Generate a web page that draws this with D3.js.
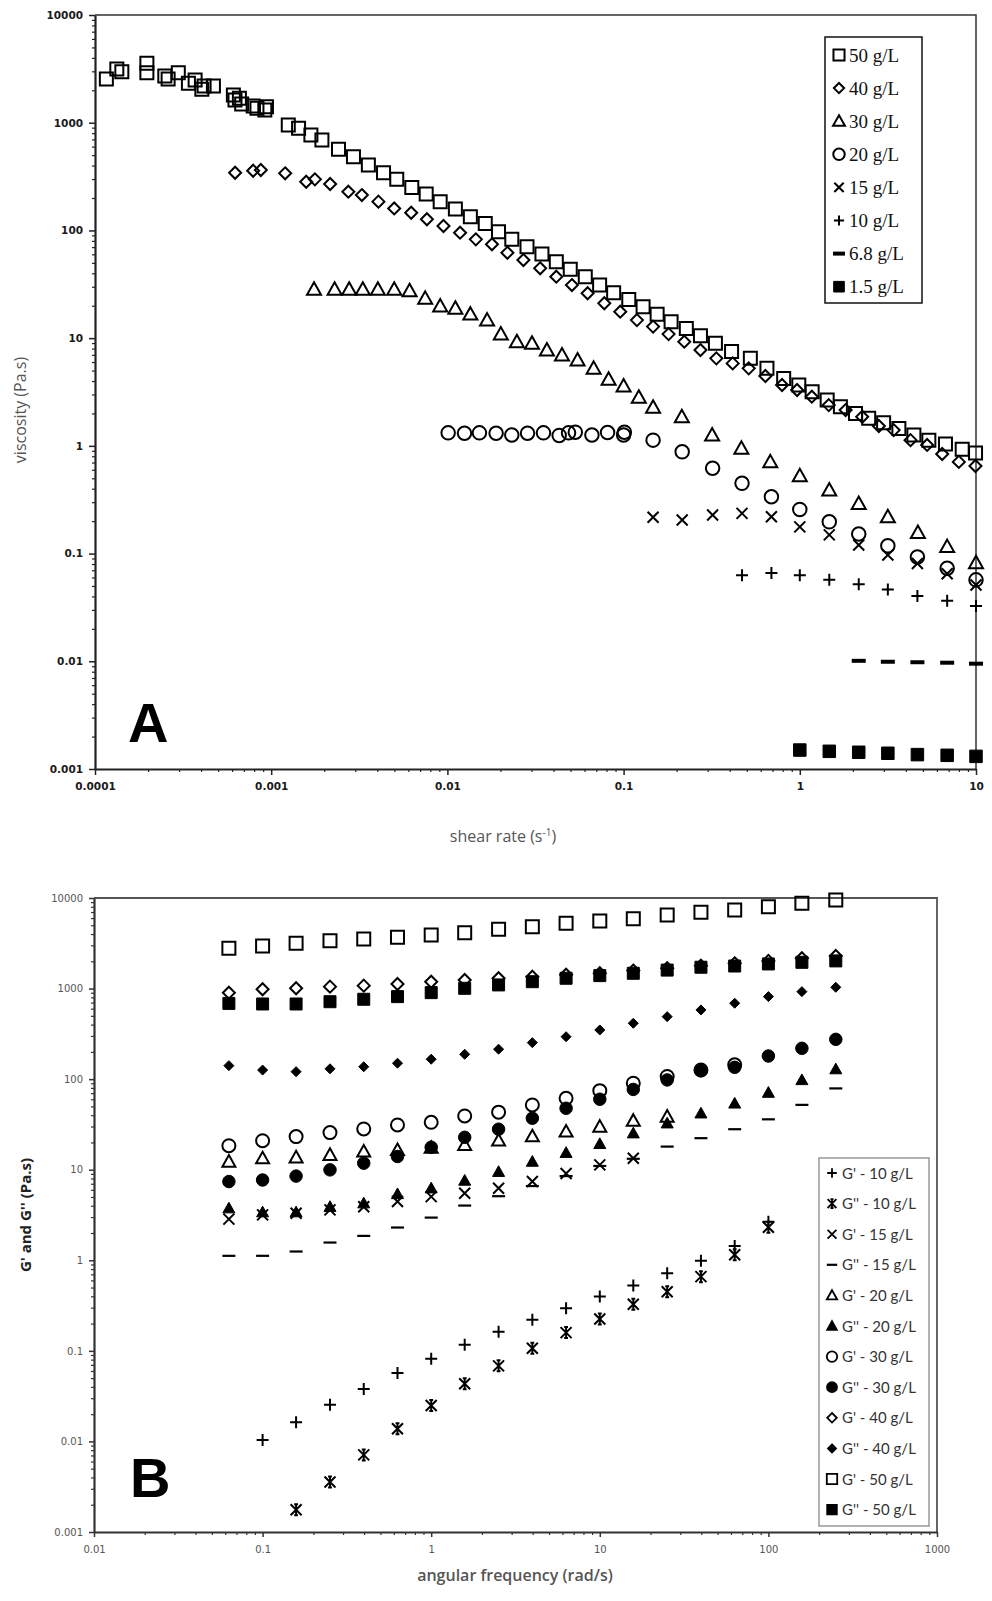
<!DOCTYPE html>
<html>
<head>
<meta charset="utf-8">
<script src="https://cdn.jsdelivr.net/npm/d3@7"></script>
<style>body{margin:0;background:#fff}</style>
</head>
<body>
<div id="chart"></div>
<script>
// ---------- PANEL A: viscosity vs shear rate, [shear rate, viscosity] ----------
const a50 = [[1.16e-4,2550],[1.33e-4,3150],[1.42e-4,2980],[1.97e-4,3560],[1.97e-4,2910],[2.49e-4,2715],
  [2.6e-4,2550],[2.97e-4,2910],[3.39e-4,2320],[3.7e-4,2490],[4.04e-4,2040],[4.16e-4,2190],[4.7e-4,2190],
  [6.1e-4,1810],[6.23e-4,1625],[6.6e-4,1690],[6.8e-4,1495],[7.9e-4,1430],[8.3e-4,1360],[9.2e-4,1313],
  [9.4e-4,1410],[1.25e-3,953],[1.43e-3,887],[1.68e-3,769],[1.94e-3,691],[2.41e-3,566],[2.93e-3,483],
  [3.56e-3,405],[4.34e-3,343],[5.16e-3,298],[6.28e-3,251],[7.58e-3,218],[9.1e-3,185],[0.0111,158],
  [0.0135,134],[0.0164,116],[0.0195,97.3],[0.0232,82.6],[0.0283,70.6],[0.0344,60.4],[0.0415,51.2],
  [0.0498,43.5],[0.0606,37.2],[0.0731,31.1],[0.0878,26.4],[0.107,22.9],[0.129,19.6],[0.155,16.7],
  [0.186,14.2],[0.227,12.3],[0.273,10.5],[0.332,8.95],[0.41,7.5],[0.524,6.5],[0.651,5.24],[0.81,4.23],
  [0.987,3.67],[1.175,3.18],[1.43,2.66],[1.70,2.31],[2.07,2.0],[2.46,1.80],[2.99,1.64],[3.65,1.45],
  [4.44,1.26],[5.40,1.13],[6.71,1.04],[8.35,0.93],[9.94,0.86]];
const a40 = [[6.24e-4,343],[7.9e-4,358],[8.73e-4,364],[1.2e-3,339],[1.58e-3,283],[1.77e-3,298],[2.16e-3,270],
  [2.74e-3,229],[3.27e-3,213],[4.06e-3,185],[4.99e-3,160],[6.23e-3,146],[7.65e-3,127],[9.5e-3,110],
  [0.0118,95.3],[0.0145,82.6],[0.0179,74.3],[0.0219,62],[0.027,53.1],[0.0336,44.5],[0.0415,37.2],
  [0.0509,31.1],[0.0625,26.1],[0.0777,21.1],[0.0957,17.6],[0.119,14.7],[0.147,12.8],[0.18,10.9],
  [0.221,9.27],[0.273,7.75],[0.336,6.49],[0.416,5.83],[0.513,5.24],[0.638,4.45],[0.793,3.67],[0.965,3.30],
  [1.17,2.86],[1.46,2.39],[1.82,2.15],[2.26,1.86],[2.81,1.53],[3.41,1.40],[4.25,1.13],[5.28,1.02],
  [6.43,0.84],[7.99,0.71],[9.93,0.65]];
const a30 = [[1.75e-3,28.4],[2.29e-3,28.4],[2.77e-3,28.4],[3.31e-3,28.4],[4.03e-3,28.4],[4.99e-3,28.4],
  [6.1e-3,27.5],[7.48e-3,23.4],[9.1e-3,19.9],[0.0111,18.9],[0.0135,16.7],[0.0168,14.7],[0.0201,10.9],
  [0.0248,9.27],[0.0302,8.95],[0.0367,7.75],[0.0447,6.96],[0.0548,6.26],[0.0676,5.24],[0.0822,4.15],
  [0.1,3.59],[0.122,2.82],[0.147,2.28],[0.214,1.86],[0.318,1.26],[0.466,0.95],[0.68,0.71],[1.0,0.527],
  [1.47,0.389],[2.16,0.292],[3.16,0.22],[4.68,0.157],[6.86,0.116],[10,0.082]];
const a20 = [[0.0101,1.32],[0.0125,1.31],[0.0152,1.32],[0.0189,1.31],[0.0232,1.26],[0.0285,1.31],[0.0351,1.32],
  [0.0431,1.25],[0.0487,1.32],[0.0532,1.34],[0.0661,1.26],[0.0811,1.33],[0.101,1.34],[0.1,1.26],
  [0.147,1.13],[0.215,0.88],[0.32,0.62],[0.47,0.449],[0.69,0.337],[1.0,0.257],[1.47,0.197],[2.16,0.152],
  [3.16,0.118],[4.65,0.093],[6.86,0.073],[10,0.057]];
const a15 = [[0.147,0.217],[0.215,0.205],[0.32,0.228],[0.47,0.236],[0.69,0.22],[1.0,0.177],[1.47,0.149],
  [2.16,0.12],[3.16,0.097],[4.65,0.081],[6.86,0.065],[10,0.051]];
const a10 = [[0.47,0.063],[0.69,0.066],[1.0,0.063],[1.47,0.057],[2.16,0.052],[3.16,0.0465],[4.65,0.0403],
  [6.86,0.0365],[10,0.0326]];
const a6_8 = [[2.16,0.0101],[3.16,0.0099],[4.65,0.0098],[6.86,0.0097],[10,0.0095]];
const a1_5 = [[1.0,0.0015],[1.47,0.00146],[2.16,0.00143],[3.16,0.0014],[4.65,0.00136],[6.86,0.00134],[10,0.00131]];

const seriesA = ["50 g/L","40 g/L","30 g/L","20 g/L","15 g/L","10 g/L","6.8 g/L","1.5 g/L"];

// ---------- PANEL B: G' and G'' vs angular frequency ----------
const freq = [0.0631,0.1,0.158,0.251,0.398,0.631,1,1.58,2.51,3.98,6.31,10,15.8,25.1,39.8,63.1,100,158,251];
const gp10  = [null,0.0104,0.0163,0.0254,0.038,0.0568,0.0817,0.1165,0.163,0.22,0.296,0.398,0.526,0.72,0.99,1.44,2.67,null,null];
const gpp10 = [null,null,0.00176,0.00356,0.0071,0.0138,0.0249,0.0433,0.0683,0.107,0.159,0.225,0.327,0.45,0.66,1.15,2.32,null,null];
const gp15  = [2.85,3.17,3.3,3.6,3.9,4.45,5.05,5.5,6.25,7.4,9.1,11.3,13.4,null,null,null,null,null,null];
const gpp15 = [1.12,1.12,1.25,1.57,1.86,2.3,2.96,4.02,5.1,6.6,8.5,11,13.2,18,22.3,28,36,52,79];
const gp20  = [12.3,13.4,13.7,14.6,15.9,16.5,17.5,18.8,21,23.4,26.4,29.9,34.8,38.6,null,null,null,null,null];
const gpp20 = [3.76,3.4,3.4,3.9,4.27,5.4,6.25,7.6,9.5,12.3,15.4,19.3,25.3,32.6,42,54,71,98,129];
const gp30  = [18.4,20.9,23.2,25.7,28.2,31.2,33.4,39.2,43.2,51.9,61.5,74.6,90.2,107,126,144,null,null,null];
const gpp30 = [7.4,7.7,8.5,9.96,11.8,14.0,17.7,22.8,28,37,47.7,60,77,98,124,135,180,219,275];
const gp40  = [901,982,1008,1050,1077,1124,1190,1245,1300,1353,1420,1475,1580,1675,1790,1900,2020,2160,2290];
const gpp40 = [141,126,121,130,137,150,166,188,214,253,294,349,414,490,581,689,815,925,1033];
const gp50  = [2790,2950,3160,3380,3530,3680,3910,4140,4510,4820,5250,5570,5910,6500,6950,7380,8020,8740,9500];
const gpp50 = [686,676,676,716,762,815,902,1007,1097,1191,1300,1390,1475,1600,1720,1775,1870,1950,2020];

const seriesB = ["G' - 10 g/L","G'' - 10 g/L","G' - 15 g/L","G'' - 15 g/L","G' - 20 g/L","G'' - 20 g/L",
  "G' - 30 g/L","G'' - 30 g/L","G' - 40 g/L","G'' - 40 g/L","G' - 50 g/L","G'' - 50 g/L"];

// tick labels
const yTicks = [1e-3,1e-2,0.1,1,10,100,1000,1e4];
const yTickLabels = ["0.001","0.01","0.1","1","10","100","1000","10000"];
const xTicksA = [1e-4,1e-3,1e-2,0.1,1,10];
const xTickLabelsA = ["0.0001","0.001","0.01","0.1","1","10"];
const xTicksB = [0.01,0.1,1,10,100,1000];
const xTickLabelsB = ["0.01","0.1","1","10","100","1000"];

// ---------- SETUP ----------
const svg = d3.select("#chart").append("svg")
  .attr("width", 992).attr("height", 1601)
  .style("background", "#fff");

const xA = d3.scaleLog().domain([1e-4, 10]).range([95, 976]);
const yA = d3.scaleLog().domain([1e-3, 1e4]).range([769, 15]);
const xB = d3.scaleLog().domain([0.01, 1000]).range([94, 937]);
const yB = d3.scaleLog().domain([1e-3, 1e4]).range([1532, 898]);

// marker shapes centred on 0,0
function shape(type, s, t) {
  const h = s / 2;
  switch (type) {
    case "square": return `M${-h},${-h}H${h}V${h}H${-h}Z`;
    case "diamond": return `M0,${-h}L${h},0L0,${h}L${-h},0Z`;
    case "triangle": return `M0,${-h}L${h},${h * 0.78}L${-h},${h * 0.78}Z`;
    case "circle": return `M${-h},0A${h},${h} 0 1,0 ${h},0A${h},${h} 0 1,0 ${-h},0Z`;
    case "x": return `M${-h},${-h}L${h},${h}M${h},${-h}L${-h},${h}`;
    case "plus": return `M${-h},0H${h}M0,${-h}V${h}`;
    case "star": return `M${-h},${-h}L${h},${h}M${h},${-h}L${-h},${h}M0,${-h}V${h}M${-h*0.35},${-h}H${h*0.35}M${-h*0.35},${h}H${h*0.35}`;
    case "dash": return `M${-h},${-t / 2}H${h}V${t / 2}H${-h}Z`;
  }
}

function drawPoints(g, pts, st) {
  g.append("g").selectAll("path")
    .data(pts)
    .enter().append("path")
    .attr("transform", d => `translate(${d[0]},${d[1]})`)
    .attr("d", shape(st.shape, st.size, st.t))
    .attr("fill", st.fill ? "#000" : "none")
    .attr("stroke", "#000")
    .attr("stroke-width", st.sw != null ? st.sw : 2);
}

function logAxis(g, scale, orient, pos, majors, labels, o) {
  const axisFn = orient === "left" ? d3.axisLeft : d3.axisBottom;
  const [lo, hi] = scale.domain();
  const minors = [];
  for (let e = Math.round(Math.log10(lo)); e < Math.round(Math.log10(hi)); e++)
    for (let k = 2; k < 10; k++) minors.push(k * Math.pow(10, e));
  const tr = orient === "left" ? `translate(${pos},0)` : `translate(0,${pos})`;

  const gm = g.append("g").attr("transform", tr)
    .call(axisFn(scale).tickValues(minors).tickSize(o.minor).tickSizeOuter(0).tickFormat(""));
  gm.select(".domain").remove();
  gm.selectAll("line").attr("stroke", o.color).attr("stroke-width", 1.2);

  const gM = g.append("g").attr("transform", tr)
    .call(axisFn(scale).tickValues(majors).tickSize(o.major).tickSizeOuter(0)
      .tickPadding(o.pad).tickFormat((d, i) => labels[i]));
  gM.select(".domain").attr("stroke", o.color).attr("stroke-width", o.lw);
  gM.selectAll("line").attr("stroke", o.color).attr("stroke-width", 1.5);
  gM.selectAll("text")
    .style("font-family", "DejaVu Sans, sans-serif")
    .style("font-size", o.fs + "px")
    .style("font-weight", o.fw)
    .attr("fill", o.tc);
}

// ---------- PANEL A ----------
const gA = svg.append("g");

// plot frame (top and right)
gA.append("path")
  .attr("d", `M${xA(1e-4)},${yA(1e4)}H${xA(10)}V${yA(1e-3)}`)
  .attr("fill", "none").attr("stroke", "#333").attr("stroke-width", 1.5);

const axA = { minor: 3, major: 6, pad: 6, color: "#222", lw: 2.2, fs: 10.5, fw: "bold", tc: "#1a1a1a" };
logAxis(gA, yA, "left", xA(1e-4), yTicks, yTickLabels, axA);
logAxis(gA, xA, "bottom", yA(1e-3), xTicksA, xTickLabelsA, Object.assign({}, axA, { pad: 8 }));

const stylesA = [
  { shape: "square", size: 13, fill: false },
  { shape: "diamond", size: 12, fill: false },
  { shape: "triangle", size: 14, fill: false },
  { shape: "circle", size: 13.5, fill: false },
  { shape: "x", size: 11, fill: false },
  { shape: "plus", size: 12, fill: false },
  { shape: "dash", size: 14, t: 4, fill: true, sw: 0 },
  { shape: "square", size: 12.5, fill: true, sw: 1 }
];
[a50, a40, a30, a20, a15, a10, a6_8, a1_5].forEach((s, i) => {
  drawPoints(gA, s.map(d => [xA(d[0]), yA(d[1])]), stylesA[i]);
});

// legend A
const legA = gA.append("g");
legA.append("rect").attr("x", 825).attr("y", 37).attr("width", 97).attr("height", 266)
  .attr("fill", "#fff").attr("stroke", "#111").attr("stroke-width", 1.5);
seriesA.forEach((name, i) => {
  const cy = 55 + i * 33.1;
  const st = stylesA[i];
  legA.append("path")
    .attr("transform", `translate(839,${cy})`)
    .attr("d", shape(st.shape, st.size * 0.85, st.t))
    .attr("fill", st.fill ? "#000" : "none")
    .attr("stroke", "#000").attr("stroke-width", st.sw != null ? st.sw : 2);
  legA.append("text").attr("x", 849).attr("y", cy + 6.5)
    .style("font-family", "Liberation Serif, Times New Roman, serif")
    .style("font-size", "19px").attr("fill", "#111")
    .text(name);
});

// axis titles A
gA.append("text")
  .attr("transform", "translate(26,410) rotate(-90)")
  .attr("text-anchor", "middle")
  .style("font-family", "Open Sans, sans-serif").style("font-size", "16px")
  .attr("fill", "#555")
  .text("viscosity (Pa.s)");
const xtA = gA.append("text")
  .attr("x", 503).attr("y", 842).attr("text-anchor", "middle")
  .style("font-family", "Open Sans, sans-serif").style("font-size", "16px")
  .attr("fill", "#555");
xtA.append("tspan").text("shear rate (s");
xtA.append("tspan").attr("dy", -6).style("font-size", "10px").text("-1");
xtA.append("tspan").attr("dy", 6).text(")");

gA.append("text").attr("x", 128).attr("y", 742)
  .style("font-family", "Liberation Sans, Arial, sans-serif")
  .style("font-size", "56px").style("font-weight", "bold")
  .text("A");

// ---------- PANEL B ----------
const gB = svg.append("g");
gB.append("path")
  .attr("d", `M${xB(0.01)},${yB(1e4)}H${xB(1000)}V${yB(1e-3)}`)
  .attr("fill", "none").attr("stroke", "#555").attr("stroke-width", 1.8);

const axB = { minor: 3, major: 5, pad: 6, color: "#333", lw: 2.2, fs: 10, fw: "normal", tc: "#555" };
logAxis(gB, yB, "left", xB(0.01), yTicks, yTickLabels, axB);
logAxis(gB, xB, "bottom", yB(1e-3), xTicksB, xTickLabelsB, Object.assign({}, axB, { pad: 9 }));

const stylesB = [
  { shape: "plus", size: 12, fill: false },
  { shape: "star", size: 11, fill: false },
  { shape: "x", size: 11, fill: false },
  { shape: "dash", size: 13, t: 2.2, fill: true, sw: 0 },
  { shape: "triangle", size: 13, fill: false },
  { shape: "triangle", size: 12, fill: true, sw: 1 },
  { shape: "circle", size: 13, fill: false },
  { shape: "circle", size: 12.5, fill: true, sw: 1 },
  { shape: "diamond", size: 12, fill: false },
  { shape: "diamond", size: 10, fill: true, sw: 1 },
  { shape: "square", size: 13, fill: false },
  { shape: "square", size: 12, fill: true, sw: 1 }
];
[gp10, gpp10, gp15, gpp15, gp20, gpp20, gp30, gpp30, gp40, gpp40, gp50, gpp50].forEach((s, i) => {
  const pts = [];
  s.forEach((v, j) => { if (v != null) pts.push([xB(freq[j]), yB(v)]); });
  drawPoints(gB, pts, stylesB[i]);
});

// legend B
const legB = gB.append("g");
legB.append("rect").attr("x", 819).attr("y", 1158).attr("width", 110).attr("height", 368)
  .attr("fill", "#fff").attr("stroke", "#999").attr("stroke-width", 1.5);
seriesB.forEach((name, i) => {
  const cy = 1173 + i * 30.6;
  const st = stylesB[i];
  legB.append("path")
    .attr("transform", `translate(832,${cy})`)
    .attr("d", shape(st.shape, st.size * 0.8, st.t))
    .attr("fill", st.fill ? "#000" : "none")
    .attr("stroke", "#000").attr("stroke-width", st.sw === 0 ? 0 : 1.8);
  legB.append("text").attr("x", 842).attr("y", cy + 5.5)
    .style("font-family", "Lato, Open Sans, sans-serif")
    .style("font-size", "15px").attr("fill", "#333")
    .text(name);
});

gB.append("text")
  .attr("transform", "translate(31,1215) rotate(-90)")
  .attr("text-anchor", "middle")
  .style("font-family", "Open Sans, sans-serif").style("font-size", "15px")
  .style("font-weight", "bold").attr("fill", "#222")
  .text("G' and G'' (Pa.s)");
gB.append("text")
  .attr("x", 515).attr("y", 1581).attr("text-anchor", "middle")
  .style("font-family", "Open Sans, sans-serif").style("font-size", "16px")
  .style("font-weight", 600).attr("fill", "#555")
  .text("angular frequency (rad/s)");

gB.append("text").attr("x", 130).attr("y", 1497)
  .style("font-family", "Liberation Sans, Arial, sans-serif")
  .style("font-size", "56px").style("font-weight", "bold")
  .text("B");
</script>
</body>
</html>
